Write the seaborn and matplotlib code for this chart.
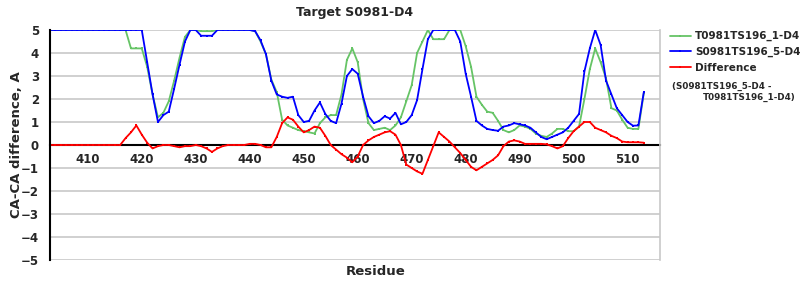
import numpy as np
import pandas as pd
import matplotlib
matplotlib.use("Agg")
import matplotlib.pyplot as plt
import seaborn as sns

residues = list(range(403, 514))

model_1 = [5.0] * 14 + [
    5.0, 4.2, 4.2, 4.2, 3.4, 2.2, 1.2, 1.4, 1.9, 2.8,      # 417-426
    3.8, 4.7, 5.0, 5.0, 4.95, 4.95, 4.95, 5.0, 5.0, 5.0,   # 427-436
    5.0, 5.0, 5.0, 5.0, 4.95, 4.5, 3.95, 2.85, 2.3, 1.1,   # 437-446
    0.85, 0.75, 0.65, 0.6, 0.55, 0.5, 0.95, 1.2, 1.3, 1.3, # 447-456
    2.2, 3.7, 4.2, 3.6, 2.0, 0.95, 0.65, 0.7, 0.75, 0.65,  # 457-466
    0.85, 1.2, 1.9, 2.6, 4.0, 4.5, 5.0, 4.6, 4.6, 4.6,     # 467-476
    5.0, 5.0, 5.0, 4.3, 3.4, 2.1, 1.75, 1.45, 1.4, 1.05,   # 477-486
    0.65, 0.55, 0.65, 0.85, 0.8, 0.7, 0.5, 0.4, 0.35, 0.5, # 487-496
    0.7, 0.7, 0.6, 0.6, 0.8, 2.0, 3.3, 4.2, 3.6, 2.9,      # 497-506
    1.6, 1.5, 1.1, 0.75, 0.7, 0.7, 2.25                    # 507-513
]

model_5 = [5.0] * 17 + [
    5.0, 3.6, 2.2, 1.0, 1.3, 1.45, 2.45, 3.5, 4.5, 5.0,    # 420-429
    5.0, 4.75, 4.75, 4.75, 5.0, 5.0, 5.0, 5.0, 5.0, 5.0,   # 430-439
    5.0, 4.95, 4.55, 3.95, 2.8, 2.2, 2.1, 2.05, 2.1, 1.3,  # 440-449
    1.0, 1.05, 1.5, 1.85, 1.35, 1.05, 0.95, 1.8, 3.0, 3.3, # 450-459
    3.1, 2.1, 1.25, 0.95, 1.05, 1.25, 1.15, 1.4, 0.9, 1.0, # 460-469
    1.3, 1.95, 3.3, 4.6, 5.0, 5.0, 5.0, 5.0, 5.0, 4.5,     # 470-479
    3.1, 2.1, 1.05, 0.85, 0.7, 0.65, 0.62, 0.8, 0.85, 0.95,# 480-489
    0.9, 0.85, 0.75, 0.55, 0.35, 0.25, 0.35, 0.45, 0.55, 0.75, # 490-499
    1.05, 1.35, 3.2, 4.2, 5.0, 4.35, 2.8, 2.2, 1.6, 1.3,   # 500-509
    1.0, 0.84, 0.85, 2.3                                   # 510-513
]

difference = [0.0] * 13 + [
    0.0, 0.3, 0.55, 0.85, 0.45, 0.1, -0.15, -0.05, 0.0, 0.0,     # 416-425
    -0.05, -0.1, -0.05, -0.05, 0.0, -0.05, -0.15, -0.3, -0.15, -0.05, # 426-435
    0.0, 0.0, 0.0, 0.0, 0.05, 0.05, 0.0, -0.1, -0.1, 0.35,       # 436-445
    0.95, 1.2, 1.1, 0.8, 0.55, 0.65, 0.8, 0.75, 0.4, 0.0,        # 446-455
    -0.2, -0.4, -0.55, -0.75, -0.5, 0.0, 0.2, 0.35, 0.45, 0.55,  # 456-465
    0.6, 0.45, 0.0, -0.85, -1.0, -1.15, -1.25, -0.65, -0.05, 0.55, # 466-475
    0.35, 0.15, -0.1, -0.35, -0.65, -0.95, -1.1, -0.95, -0.8, -0.65, # 476-485
    -0.45, -0.05, 0.15, 0.2, 0.15, 0.05, 0.05, 0.05, 0.05, 0.03, # 486-495
    -0.05, -0.15, -0.05, 0.3, 0.6, 0.8, 1.0, 1.0, 0.75, 0.65,    # 496-505
    0.55, 0.4, 0.3, 0.15, 0.12, 0.12, 0.12, 0.1                  # 506-513
]

label_1 = "T0981TS196_1-D4"
label_5 = "S0981TS196_5-D4"
label_d = "Difference"
x_ticks = list(range(410, 520, 10))
y_ticks = list(range(-5, 6))

sns.set_theme(style="white")
plt.rcParams['font.family'] = ['DejaVu Sans']

fig = plt.figure(figsize=(8, 3), dpi=100)
ax = fig.add_axes([50/800, 40/300, 610/800, 230/300])

green = "#66c466"
blue = "#0000ff"
red = "#ff0000"

common = dict(marker="s", markersize=1.6, markeredgewidth=0, linewidth=1.3)
sns.lineplot(x=residues, y=model_1, color=green, ax=ax, label=label_1, **common)
sns.lineplot(x=residues, y=model_5, color=blue, ax=ax, label=label_5, **common)
sns.lineplot(x=residues, y=difference, color=red, ax=ax, label=label_d, **common)

ax.set_xlim(403, 516)
ax.set_ylim(-5, 5)
ax.set_yticks(y_ticks)
ax.set_yticklabels([("\u2212" + str(-v)) if v < 0 else str(v) for v in y_ticks])
ax.set_xticks(x_ticks)
ax.yaxis.grid(True, color="#c8c8c8", linewidth=1.2)
ax.xaxis.grid(False)
ax.set_axisbelow(True)

ax.spines["top"].set_visible(False)
ax.spines["right"].set_color("#c8c8c8")
ax.spines["right"].set_linewidth(1.2)
ax.spines["left"].set_color("black")
ax.spines["left"].set_linewidth(1.5)
ax.spines["bottom"].set_position(("data", 0))
ax.spines["bottom"].set_color("black")
ax.spines["bottom"].set_linewidth(1.5)
ax.spines["bottom"].set_zorder(1.5)

ax.tick_params(axis="x", direction="out", length=4, width=1, color="#b0b0b0",
               pad=2, labelsize=8.5)
ax.tick_params(axis="y", length=0, pad=8, labelsize=8.5)
for t in ax.get_xticklabels() + ax.get_yticklabels():
    t.set_fontweight("bold")

ax.set_title("Target S0981-D4", fontsize=9, fontweight="bold", pad=10)
ax.set_xlabel("Residue", fontsize=9.5, fontweight="bold")
ax.xaxis.set_label_coords(0.534, -0.02)
ax.xaxis.label.set_va("top")
ax.set_ylabel("CA-CA difference, A", fontsize=9.5, fontweight="bold")
ax.yaxis.set_label_coords(-0.045, 0.5)

leg = ax.legend(loc="upper left", bbox_to_anchor=(1.016, 0.995), frameon=False,
                prop={"weight": "bold", "size": 7.5}, handlelength=2.0,
                handletextpad=0.4, labelspacing=0.55, borderaxespad=0,
                borderpad=0)
fig.text(672/800, 1 - 86/300, "(S0981TS196_5-D4 -", fontsize=6.3, fontweight="bold",
         va="center", ha="left")
fig.text(703/800, 1 - 97/300, "T0981TS196_1-D4)", fontsize=6.3, fontweight="bold",
         va="center", ha="left")

fig.savefig("out.png", dpi=100)
